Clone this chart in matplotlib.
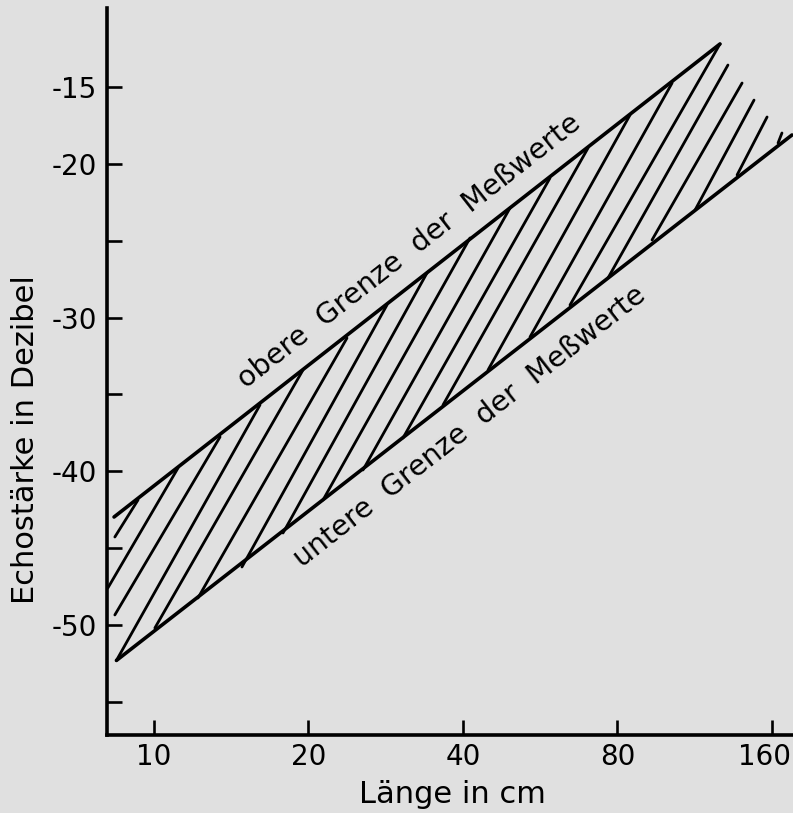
import matplotlib
matplotlib.use("Agg")
import matplotlib.pyplot as plt
from matplotlib.ticker import FixedLocator, FixedFormatter, NullLocator
from matplotlib.transforms import ScaledTranslation

# --- Daten ------------------------------------------------------------------
# Grenzlinien: Länge in cm / Echostärke in dB
upper_x = [8.36, 126.7]
upper_y = [-42.97, -12.2]
lower_x = [8.45, 175.0]
lower_y = [-52.3, -18.12]

# Schraffur: Anfang (unten) und Ende (oben) jeder Linie
hatch_x0 = [8.39, 8.13, 8.39, 8.45, 10.04, 12.18, 14.84, 17.84, 21.35, 25.54,
            30.56, 36.57, 44.75, 54.03, 64.65, 76.67, 93.40, 113.3, 136.8, 164.4]
hatch_y0 = [-44.27, -47.59, -49.34, -52.3, -50.19, -48.24, -46.22, -44.01, -41.86, -39.91,
            -37.83, -35.68, -33.41, -31.26, -29.18, -27.42, -24.95, -23.0, -20.72, -18.64]
hatch_x1 = [9.31, 11.14, 13.45, 16.09, 19.51, 23.77, 28.44, 34.03, 41.28, 49.39,
            59.10, 70.09, 84.62, 102.2, 126.7, 131.3, 139.9, 147.6, 156.5, 167.3]
hatch_y1 = [-41.86, -39.78, -37.76, -35.68, -33.41, -31.33, -29.18, -27.1, -24.82, -22.87,
            -20.92, -18.97, -16.82, -14.74, -12.2, -13.57, -14.74, -15.85, -16.95, -17.99]

x_ticks = [10, 20, 40, 80, 160]
x_ticklabels = ["10", "20", "40", "80", "160"]
y_ticks = [-15, -20, -25, -30, -35, -40, -45, -50, -55]
y_ticklabels = ["-15", "-20", "", "-30", "", "-40", "", "-50", ""]

BG = "#e0e0e0"

fig = plt.figure(figsize=(7.93, 8.13), dpi=100, facecolor=BG)
ax = fig.add_axes([107 / 793, 1 - 735 / 813, 1 - 107 / 793, 727 / 813])
ax.set_facecolor(BG)

ax.set_xscale("log")
ax.set_xlim(8.10, 175.8)
ax.set_ylim(-57.15, -9.86)

# Grenzlinien
ax.plot(upper_x, upper_y, color="black", lw=2.6, solid_capstyle="round")
ax.plot(lower_x, lower_y, color="black", lw=2.6, solid_capstyle="round")

# Schraffur
for x0, y0, x1, y1 in zip(hatch_x0, hatch_y0, hatch_x1, hatch_y1):
    ax.plot([x0, x1], [y0, y1], color="black", lw=2.0, solid_capstyle="round")

# Beschriftung der Grenzen
ax.text(32.1, -26.12, "obere  Grenze  der  Meßwerte", rotation=38,
        rotation_mode="anchor", ha="center", va="baseline", fontsize=20.5)
ax.text(42.21, -37.54, "untere  Grenze  der  Meßwerte", rotation=38,
        rotation_mode="anchor", ha="center", va="baseline", fontsize=20.5)

# Achsen
for s in ("top", "right"):
    ax.spines[s].set_visible(False)
for s in ("left", "bottom"):
    ax.spines[s].set_linewidth(2.6)

ax.xaxis.set_major_locator(FixedLocator(x_ticks))
ax.xaxis.set_major_formatter(FixedFormatter(x_ticklabels))
ax.xaxis.set_minor_locator(NullLocator())
ax.yaxis.set_major_locator(FixedLocator(y_ticks))
ax.yaxis.set_major_formatter(FixedFormatter(y_ticklabels))

ax.tick_params(axis="both", direction="in", length=11, width=1.9, labelsize=20)
ax.tick_params(axis="x", pad=6)
ax.tick_params(axis="y", pad=7)

# "160" steht am rechten Rand etwas nach links versetzt
fig.canvas.draw()
last = ax.get_xticklabels()[-1]
last.set_transform(last.get_transform() + ScaledTranslation(-8 / 100, 0, fig.dpi_scale_trans))

ax.set_xlabel("Länge in cm", fontsize=22)
ax.xaxis.set_label_coords(0.503, -0.062)
ax.set_ylabel("Echostärke in Dezibel", fontsize=22)
ax.yaxis.set_label_coords(-0.098, 0.407)

fig.savefig("out.png", dpi=100, facecolor=BG)
